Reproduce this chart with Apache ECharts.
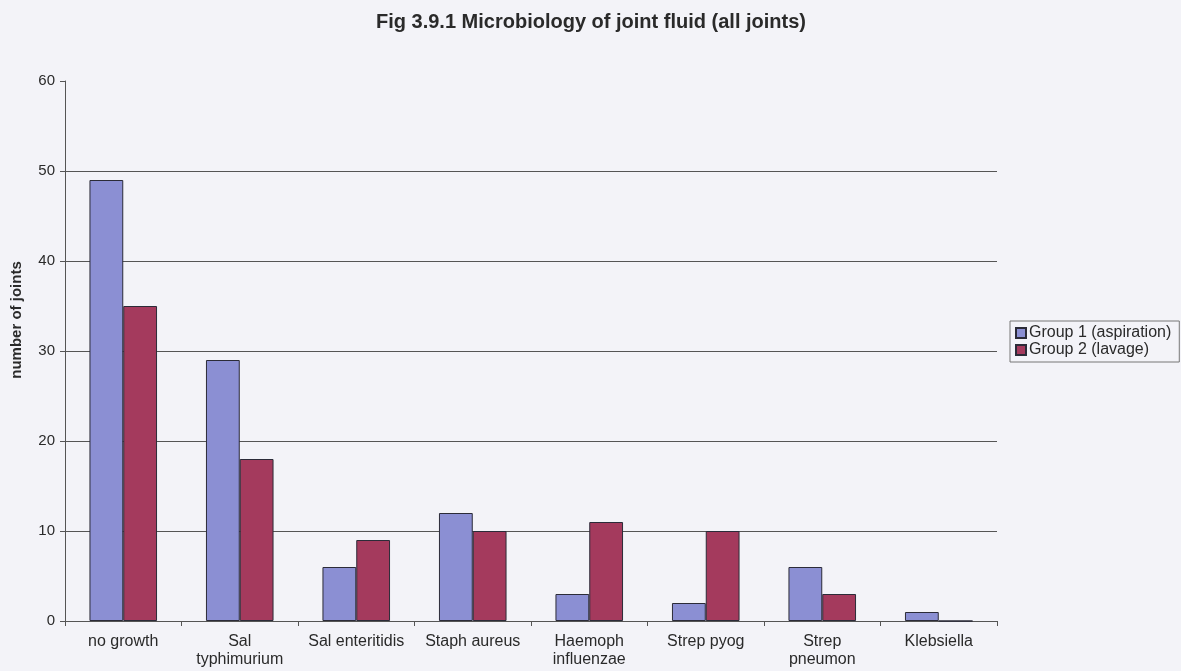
<!DOCTYPE html>
<html>
<head>
<meta charset="utf-8">
<title>Microbiology of joint fluid</title>
<script src="https://cdn.jsdelivr.net/npm/echarts@6/dist/echarts.min.js"></script>
<style>
  html, body { margin: 0; padding: 0; background: #f3f3f8; }
  #chart { width: 1181px; height: 671px; }
</style>
</head>
<body>
<div id="chart"></div>
<script>
// organisms on the x axis
const organisms = ['no growth', 'Sal\ntyphimurium', 'Sal enteritidis', 'Staph aureus',
  'Haemoph\ninfluenzae', 'Strep pyog', 'Strep\npneumon', 'Klebsiella'];
// number of joints per group
const aspiration = [49, 29, 6, 12, 3, 2, 6, 1];
const lavage = [35, 18, 9, 10, 11, 10, 3, 0];
const yTicks = [0, 10, 20, 30, 40, 50, 60];

const chart = echarts.init(document.getElementById('chart'));
const txt = '#2a2a2a';

chart.setOption({
  backgroundColor: '#f3f3f8',
  animation: false,
  textStyle: { fontFamily: 'Liberation Sans, Arial, sans-serif' },
  title: {
    text: 'Fig 3.9.1 Microbiology of joint fluid (all joints)',
    left: 586, top: 7, textAlign: 'center',
    textStyle: { fontSize: 20, fontWeight: 'bold', color: txt }
  },
  legend: {
    orient: 'vertical',
    left: 1010, top: 321,
    itemWidth: 10, itemHeight: 10, itemGap: 1,
    padding: [4, 8, 4, 5],
    borderColor: '#777', borderWidth: 1,
    textStyle: { fontSize: 16, color: txt, padding: [0, 0, 0, -2] },
    data: [
      { name: 'Group 1 (aspiration)', icon: 'rect' },
      { name: 'Group 2 (lavage)', icon: 'rect' }
    ]
  },
  grid: { left: 65, right: 184, top: 81, bottom: 50, containLabel: false, outerBoundsMode: 'none' },
  xAxis: {
    type: 'category',
    data: organisms,
    axisLine: { lineStyle: { color: '#555', width: 1 } },
    axisTick: { show: true, alignWithLabel: false, length: 5, lineStyle: { color: '#555' } },
    axisLabel: { fontSize: 16, color: txt, margin: 12, lineHeight: 18, interval: 0 }
  },
  yAxis: {
    type: 'value',
    min: yTicks[0], max: yTicks[yTicks.length - 1], interval: 10,
    name: 'number of joints',
    nameLocation: 'middle', nameGap: 41, nameRotate: 90,
    nameTextStyle: { fontSize: 15, fontWeight: 'bold', color: txt, padding: [0, 0, 0, 62] },
    axisLine: { show: true, lineStyle: { color: '#555', width: 1 } },
    axisTick: { show: true, length: 5, lineStyle: { color: '#555' } },
    axisLabel: { fontSize: 15, color: txt, margin: 10 },
    splitLine: {
      show: true,
      lineStyle: { color: ['#555', '#555', '#555', '#555', '#555', '#555', 'transparent'], width: 1 }
    }
  },
  series: [
    {
      name: 'Group 1 (aspiration)', type: 'bar', data: aspiration,
      barGap: '0%', barCategoryGap: '42%',
      itemStyle: { color: '#8b8fd3', borderColor: '#2b2b38', borderWidth: 1 }
    },
    {
      name: 'Group 2 (lavage)', type: 'bar', data: lavage,
      barGap: '0%', barCategoryGap: '42%',
      itemStyle: { color: '#a43a5d', borderColor: '#2b2b38', borderWidth: 1 }
    }
  ]
});
</script>
</body>
</html>
